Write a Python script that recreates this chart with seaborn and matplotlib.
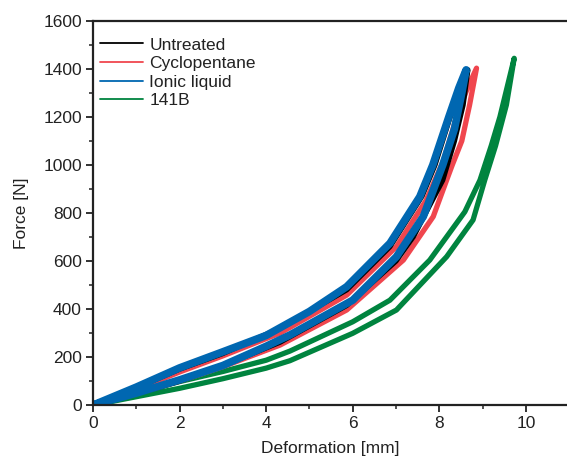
import numpy as np
import pandas as pd
import matplotlib
matplotlib.use("Agg")
import matplotlib.pyplot as plt
import seaborn as sns
from matplotlib.lines import Line2D
from matplotlib.ticker import MultipleLocator

# ---- data (deformation [mm], force [N]); each loop: upper branch up to peak, then lower branch back ----
materials = ["Untreated", "Cyclopentane", "Ionic liquid", "141B"]
colors = {"Untreated": "#000000", "Cyclopentane": "#F0464E",
          "Ionic liquid": "#0067B1", "141B": "#00843F"}

untreated_x = [0, 1, 2, 3, 4.32, 5.86, 6.86, 7.6, 7.9, 8.25, 8.5, 8.66,
               8.55, 8.35, 8.08, 7.4, 7.0, 5.86, 4.32, 3, 2, 1, 0]
untreated_f = [0, 72, 150, 215, 320, 480, 660, 870, 1000, 1200, 1320, 1396,
               1250, 1100, 937, 701, 600, 415, 262, 165, 100, 48, 0]

cyclo_x = [0, 1, 2, 3, 4.32, 5.86, 7.01, 7.7, 7.9, 8.1, 8.4, 8.65, 8.86,
           8.7, 8.52, 8.3, 8.17, 7.86, 7.17, 5.86, 4.32, 3, 2, 1, 0]
cyclo_f = [0, 65, 138, 205, 300, 458, 660, 854, 937, 1020, 1200, 1320, 1403,
           1250, 1100, 1000, 937, 785, 604, 396, 250, 160, 100, 48, 0]

ionic_x = [0, 1, 2, 3, 4, 5, 5.86, 6.86, 7.55, 7.85, 8.22, 8.45, 8.62,
           8.52, 8.35, 8.08, 7.63, 7.01, 6, 4.55, 4, 3, 2, 1, 0]
ionic_f = [0, 75, 155, 222, 290, 390, 493, 674, 868, 1000, 1200, 1320, 1396,
           1300, 1150, 1000, 785, 618, 437, 292, 245, 165, 105, 50, 0]

r141b_x = [0, 1, 2, 3, 4, 4.55, 6, 6.86, 7.78, 8.59, 8.94, 9.2, 9.4, 9.73,
           9.55, 9.3, 9.05, 8.78, 8.17, 7.01, 6, 4.55, 4, 3, 2, 1, 0]
r141b_f = [0, 50, 98, 140, 187, 225, 347, 437, 604, 805, 937, 1080, 1200, 1444,
           1250, 1080, 937, 771, 618, 396, 299, 185, 154, 110, 70, 35, 0]

series = {"Untreated": (untreated_x, untreated_f),
          "Cyclopentane": (cyclo_x, cyclo_f),
          "Ionic liquid": (ionic_x, ionic_f),
          "141B": (r141b_x, r141b_f)}

rows = []
for m in materials:
    xs, fs = series[m]
    for i, (x, f) in enumerate(zip(xs, fs)):
        rows.append({"material": m, "step": i, "Deformation": x, "Force": f})
df = pd.DataFrame(rows)

sns.set_theme(style="ticks")
plt.rcParams["font.family"] = ["Liberation Sans", "DejaVu Sans"]

fig = plt.figure(figsize=(5.67, 4.63), dpi=100)
ax = fig.add_axes([0.164, 0.125, 0.836, 0.830])

widths = {"141B": 3.8, "Cyclopentane": 3.8, "Untreated": 3.8, "Ionic liquid": 5.5}
for m in ["141B", "Cyclopentane", "Untreated", "Ionic liquid"]:
    sub = df[df["material"] == m]
    sns.lineplot(data=sub, x="Deformation", y="Force", sort=False, estimator=None,
                 color=colors[m], lw=widths[m], ax=ax, legend=False,
                 solid_joinstyle="round", solid_capstyle="round")

ax.set_xlim(0, 10.95)
ax.set_ylim(0, 1600)
ax.xaxis.set_major_locator(MultipleLocator(2))
ax.xaxis.set_minor_locator(MultipleLocator(1))
ax.yaxis.set_major_locator(MultipleLocator(200))
ax.yaxis.set_minor_locator(MultipleLocator(100))
ax.tick_params(which="major", direction="out", length=5, width=1.3, labelsize=12.5,
               colors="#222222", labelcolor="#222222", pad=3)
ax.tick_params(which="minor", direction="out", length=3, width=1.1, colors="#222222")
for s in ["left", "bottom", "top"]:
    ax.spines[s].set_linewidth(1.6)
    ax.spines[s].set_color("#222222")
ax.spines["right"].set_visible(False)

ax.set_xlabel("Deformation [mm]", fontsize=12.5, color="#222222", labelpad=7)
ax.set_ylabel("Force [N]", fontsize=12.5, color="#222222", labelpad=10)

handles = [Line2D([0], [0], color=colors[m], lw=1.3) for m in materials]
leg = ax.legend(handles, materials, loc="upper left", frameon=False, fontsize=12.5,
                handlelength=2.5, handletextpad=0.35, labelspacing=0.2,
                borderaxespad=0.0, bbox_to_anchor=(0.0, 0.975))
for t in leg.get_texts():
    t.set_color("#222222")

fig.savefig("out.png", dpi=100)
